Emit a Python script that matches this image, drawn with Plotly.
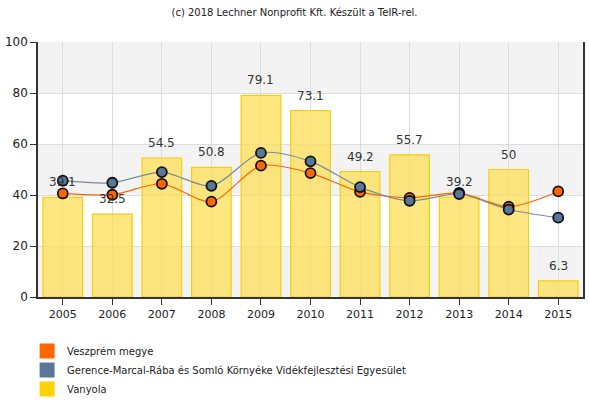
import plotly.graph_objects as go

years = ["2005", "2006", "2007", "2008", "2009", "2010", "2011", "2012", "2013", "2014", "2015"]
vanyola = [39.1, 32.5, 54.5, 50.8, 79.1, 73.1, 49.2, 55.7, 39.2, 50, 6.3]
veszprem = [40.6, 40.1, 44.4, 37.4, 51.5, 48.6, 41.2, 38.9, 40.8, 35.4, 41.4]
gerence = [45.6, 44.8, 49.0, 43.6, 56.5, 53.2, 43.1, 37.7, 40.4, 34.3, 31.1]
y_ticks = [0, 20, 40, 60, 80, 100]

name_v = "Veszprém megye"
name_g = "Gerence-Marcal-Rába és Somló Környéke Vidékfejlesztési Egyesület"
name_y = "Vanyola"

c_orange = "#ff6600"
c_blue = "#5b7797"
c_yellow = "#ffd300"

fig = go.Figure()

fig.add_trace(go.Bar(
    x=years, y=vanyola, name=name_y, showlegend=False,
    marker=dict(color="rgba(253,223,85,0.75)", line=dict(color="#f5cf10", width=1.2)),
))
fig.add_trace(go.Scatter(
    x=years, y=veszprem, name=name_v, showlegend=False, mode="lines+markers",
    line=dict(color=c_orange, width=1.2, shape="spline", smoothing=0.8),
    marker=dict(size=10, color=c_orange, line=dict(color="#111111", width=1.8)),
))
fig.add_trace(go.Scatter(
    x=years, y=gerence, name=name_g, showlegend=False, mode="lines+markers",
    line=dict(color="#7a8ba0", width=1.2, shape="spline", smoothing=0.8),
    marker=dict(size=10, color=c_blue, line=dict(color="#111111", width=1.8)),
))

# value labels above the bars (category index positions)
for i, v in enumerate(vanyola):
    fig.add_annotation(x=i, y=v, text=f"{v:g}", showarrow=False, yshift=15,
                       font=dict(size=12, color="#333333"))

# legend-only entries
for nm, col in [(name_v, c_orange), (name_g, c_blue), (name_y, c_yellow)]:
    fig.add_trace(go.Bar(x=[None], y=[None], name=nm,
                         marker=dict(color=col, line=dict(color=col, width=3)),
                         showlegend=True))

# alternating background bands
for i in range(0, len(y_ticks) - 1):
    if i % 2 == 0:
        fig.add_shape(type="rect", xref="paper", yref="y", x0=0, x1=1,
                      y0=y_ticks[i], y1=y_ticks[i + 1],
                      fillcolor="#f3f3f3", line=dict(width=0), layer="below")

fig.update_layout(
    width=589, height=405,
    margin=dict(l=38, r=6, t=42, b=108, autoexpand=False),
    paper_bgcolor="white", plot_bgcolor="rgba(0,0,0,0)",
    font=dict(family="DejaVu Sans", size=11, color="#222222"),
    title=dict(text="(c) 2018 Lechner Nonprofit Kft. Készült a TeIR-rel.",
               x=0.5, xanchor="center", y=0.977, yanchor="top",
               font=dict(size=10, color="#222222")),
    bargap=0.2,
    showlegend=True,
    legend=dict(orientation="v", x=-0.02, xanchor="left", y=-0.155, yanchor="top",
                font=dict(size=10, color="#222222"), traceorder="normal",
                itemwidth=30, tracegroupgap=0, bgcolor="rgba(0,0,0,0)"),
)
fig.update_xaxes(
    type="category", categoryorder="array", categoryarray=years,
    range=[-0.5, len(years) - 0.5],
    showgrid=True, gridcolor="#dddddd", gridwidth=1,
    showline=True, linecolor="#333333", linewidth=1.5, automargin=False,
    ticks="outside", ticklen=6, tickcolor="#333333",
    tickfont=dict(size=11, color="#222222"),
)
fig.update_yaxes(
    range=[0, 100], tickvals=y_ticks, showgrid=True, gridcolor="#dddddd",
    showline=True, linecolor="#333333", linewidth=1.5, mirror=True, automargin=False,
    ticks="outside", ticklen=6, tickcolor="#333333", zeroline=False,
    tickfont=dict(size=12, color="#222222"),
)

fig.write_html("out.html", config={"displayModeBar": False},
               post_script="document.body.style.margin='0';")
